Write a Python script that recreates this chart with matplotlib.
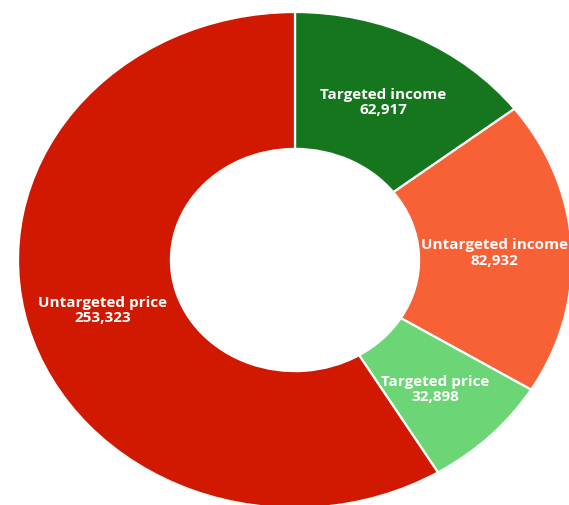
import matplotlib.pyplot as plt
import numpy as np

# Data
categories = ['Targeted income', 'Untargeted income', 'Targeted price', 'Untargeted price']
values = [62917, 82932, 32898, 253323]
colors = ['#15761e', '#f86036', '#6cd676', '#d01900']

fig = plt.figure(figsize=(5.69, 5.05), dpi=100)
# axes a little wider than tall, so the donut comes out slightly oval like the reference
ax = fig.add_axes([18 / 569, -3 / 505, 554 / 569, 496 / 505])

wedges, _ = ax.pie(values, colors=colors, startangle=90, counterclock=False,
                   radius=1.0,
                   wedgeprops=dict(width=0.552, edgecolor='white', linewidth=1.6))
ax.set_aspect('auto')
ax.set_xlim(-1, 1)
ax.set_ylim(-1, 1)
ax.axis('off')

# labels at the middle of each ring segment
r_lab = 0.72
for w, name, v in zip(wedges, categories, values):
    ang = np.deg2rad((w.theta1 + w.theta2) / 2)
    ax.text(r_lab * np.cos(ang), r_lab * np.sin(ang) - 0.01, f'{name}\n{v:,}',
            ha='center', va='center', color='white', fontsize=11,
            fontweight='bold', family='Open Sans', linespacing=1.1)

fig.savefig('out.png', dpi=100)
